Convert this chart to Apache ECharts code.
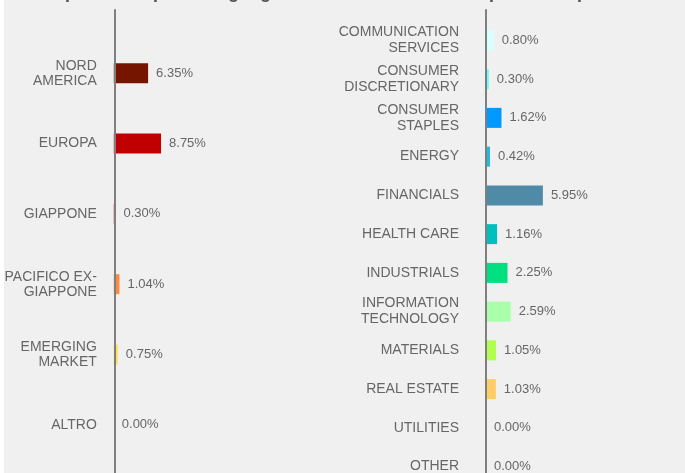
<!DOCTYPE html>
<html>
<head>
<meta charset="utf-8">
<script src="https://cdn.jsdelivr.net/npm/echarts@6/dist/echarts.min.js"></script>
<style>
  html, body { margin: 0; padding: 0; background: #ffffff; }
  #chart { position: absolute; left: 4px; top: 0; width: 681px; height: 473px; background: #f0f0f0; }
</style>
</head>
<body>
<div id="chart"></div>
<script>
  // area geografica
  const areaCategories = ['NORD\nAMERICA', 'EUROPA', 'GIAPPONE', 'PACIFICO EX-\nGIAPPONE', 'EMERGING\nMARKET', 'ALTRO']
  const areaValues = [6.35, 8.75, 0.30, 1.04, 0.75, 0.00]
  const areaColors = ['#751500', '#c00000', '#c00000', '#ff8a3d', '#ffe050', '#999999']

  // settori
  const sectorCategories = [
    'COMMUNICATION\nSERVICES', 'CONSUMER\nDISCRETIONARY', 'CONSUMER\nSTAPLES', 'ENERGY', 'FINANCIALS',
    'HEALTH CARE', 'INDUSTRIALS', 'INFORMATION\nTECHNOLOGY', 'MATERIALS', 'REAL ESTATE', 'UTILITIES', 'OTHER'
  ]
  const sectorValues = [0.80, 0.30, 1.62, 0.42, 5.95, 1.16, 2.25, 2.59, 1.05, 1.03, 0.00, 0.00]
  const sectorColors = [
    '#d8ffff', '#66ffff', '#0099ff', '#22bbdd', '#4f8aa6',
    '#00bfbf', '#00e080', '#aaffaa', '#b0ff50', '#ffcc66', '#999999', '#999999'
  ]

  const FONT = 'Arial, "Liberation Sans", sans-serif'
  const TEXT = '#666666'
  const AXIS = '#7f7f7f'

  const chart = echarts.init(document.getElementById('chart'))

  const toData = (values, colors) => values.map((v, i) => ({ value: v, itemStyle: { color: colors[i] } }))

  const valueLabel = {
    show: true,
    position: 'right',
    distance: 8,
    color: TEXT,
    fontSize: 13,
    fontFamily: FONT,
    formatter: (p) => p.value.toFixed(2) + '%'
  }

  const hiddenValueAxis = (gridIndex) => ({
    type: 'value',
    gridIndex,
    min: 0,
    max: 10,
    show: false
  })

  // linea verticale sopra le barre
  const lineAxis = (gridIndex) => ({
    type: 'value',
    gridIndex,
    z: 10,
    axisLine: { show: true, lineStyle: { color: AXIS, width: 2 } },
    axisTick: { show: false },
    axisLabel: { show: false },
    splitLine: { show: false }
  })

  const option = {
    backgroundColor: '#f0f0f0',
    animation: false,
    title: [
      {
        text: 'Composizione per area geografica',
        left: 16,
        top: -21,
        textStyle: { color: '#555555', fontSize: 18, fontWeight: 'bold', fontFamily: FONT }
      },
      {
        text: 'Composizione per settore',
        left: 440,
        top: -21,
        textStyle: { color: '#555555', fontSize: 18, fontWeight: 'bold', fontFamily: FONT }
      }
    ],
    grid: [
      { left: 109.8, top: 38, width: 54, height: 422, outerBoundsMode: 'none' },
      { left: 482, top: 21, width: 95.6, height: 465, outerBoundsMode: 'none' },
      // griglie solo per le linee degli assi
      { left: 110.5, top: 10, width: 10, height: 500, outerBoundsMode: 'none' },
      { left: 481.5, top: 10, width: 10, height: 500, outerBoundsMode: 'none' }
    ],
    xAxis: [hiddenValueAxis(0), hiddenValueAxis(1), hiddenValueAxis(2), hiddenValueAxis(3)],
    yAxis: [
      {
        type: 'category',
        gridIndex: 0,
        inverse: true,
        data: areaCategories,
        axisLine: { show: false },
        axisTick: { show: false },
        axisLabel: { margin: 17, color: TEXT, fontSize: 14, lineHeight: 15, fontFamily: FONT }
      },
      {
        type: 'category',
        gridIndex: 1,
        inverse: true,
        data: sectorCategories,
        axisLine: { show: false },
        axisTick: { show: false },
        axisLabel: { margin: 27, color: TEXT, fontSize: 14, lineHeight: 16, fontFamily: FONT }
      },
      lineAxis(2),
      lineAxis(3)
    ],
    series: [
      {
        type: 'bar',
        xAxisIndex: 0,
        yAxisIndex: 0,
        barWidth: 20,
        data: toData(areaValues, areaColors),
        label: valueLabel
      },
      {
        type: 'bar',
        xAxisIndex: 1,
        yAxisIndex: 1,
        barWidth: 20,
        data: toData(sectorValues, sectorColors),
        label: valueLabel
      }
    ]
  }

  chart.setOption(option)
</script>
</body>
</html>
